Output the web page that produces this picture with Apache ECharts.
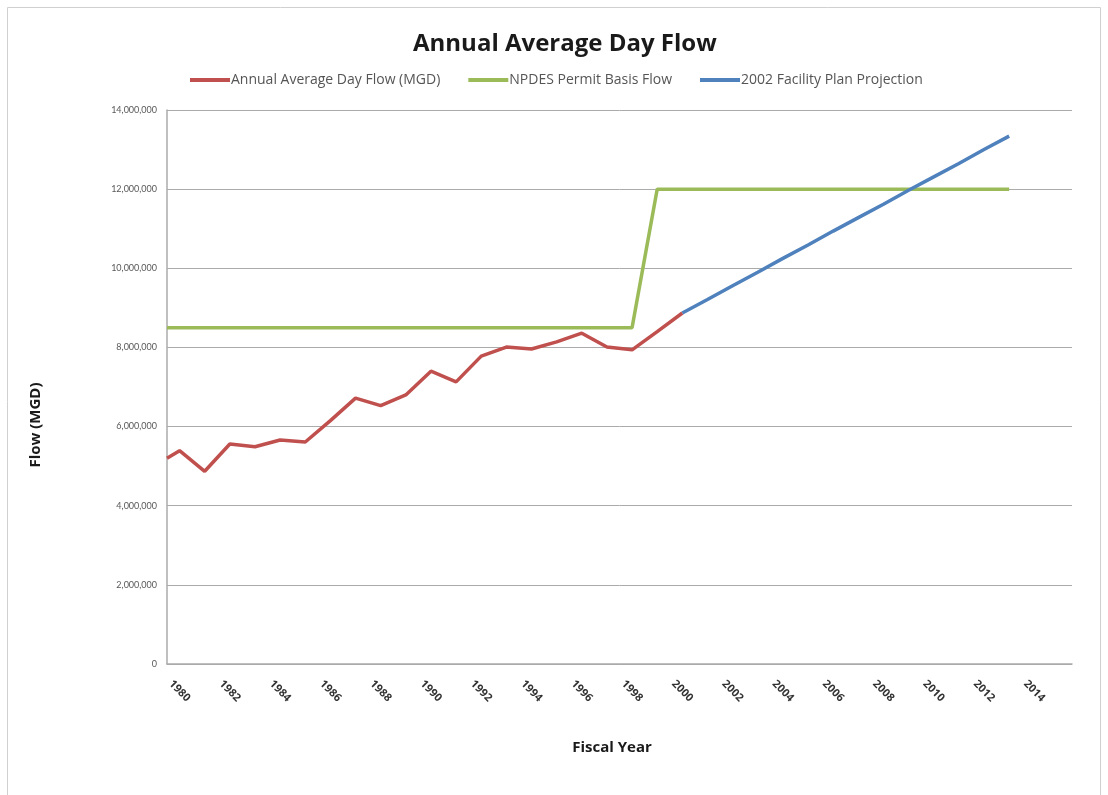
<!DOCTYPE html>
<html>
<head>
<meta charset="utf-8">
<title>Annual Average Day Flow</title>
<script src="https://cdn.jsdelivr.net/npm/echarts@6/dist/echarts.min.js"></script>
<style>
  html, body { margin: 0; padding: 0; background: #ffffff; }
  #chart { width: 1108px; height: 795px; }
</style>
</head>
<body>
<div id="chart"></div>
<script>
// Fiscal-year axis range (category slots 1980..2015, lines start at the plot edge)
const axisStartYear = 1979.5;
const axisEndYear = 2015.5;
const labelYears = [1980, 1982, 1984, 1986, 1988, 1990, 1992, 1994, 1996, 1998,
                    2000, 2002, 2004, 2006, 2008, 2010, 2012, 2014];

// Measured annual average day flow
const flowYears = [1980, 1981, 1982, 1983, 1984, 1985, 1986, 1987, 1988, 1989, 1990,
                   1991, 1992, 1993, 1994, 1995, 1996, 1997, 1998, 1999, 2000];
const flowValues = [5390000, 4870000, 5560000, 5490000, 5660000, 5610000, 6150000,
                    6720000, 6530000, 6800000, 7400000, 7130000, 7780000, 8010000,
                    7960000, 8140000, 8360000, 8010000, 7940000, 8400000, 8870000];
const flowAtAxisStart = 5200000;

// NPDES permit basis flow
const permitYears = [1980, 1998, 1999, 2013];
const permitValues = [8500000, 8500000, 12000000, 12000000];
const permitAtAxisStart = 8500000;

// 2002 facility plan projection
const projYears = [2000, 2001, 2002, 2003, 2004, 2005, 2006, 2007,
                   2008, 2009, 2010, 2011, 2012, 2013];
const projValues = [8870000, 9210000, 9560000, 9900000, 10250000, 10590000, 10940000,
                    11280000, 11620000, 11970000, 12310000, 12650000, 13000000, 13340000];

const yTicks = [0, 2000000, 4000000, 6000000, 8000000, 10000000, 12000000, 14000000];

function pairs(xs, ys) { return xs.map((x, i) => [x, ys[i]]); }

const flowData = [[axisStartYear, flowAtAxisStart]].concat(pairs(flowYears, flowValues));
const permitData = [[axisStartYear, permitAtAxisStart]].concat(pairs(permitYears, permitValues));
const projData = pairs(projYears, projValues);

const chart = echarts.init(document.getElementById('chart'), null, { renderer: 'canvas' });

const gridColor = '#ababab';
const mainFont = '"Open Sans", Lato, sans-serif';
const tickFont = 'Lato, "Open Sans", sans-serif';

chart.setOption({
  backgroundColor: '#ffffff',
  animation: false,
  title: {
    text: 'Annual Average Day Flow',
    left: 408,
    top: 27,
    textStyle: { fontFamily: mainFont, fontWeight: 'bold', fontSize: 24, color: '#1a1a1a' }
  },
  legend: {
    left: 185,
    top: 68,
    itemWidth: 40,
    itemHeight: 4,
    itemGap: 28,
    icon: 'rect',
    textStyle: { fontFamily: mainFont, fontSize: 14, color: '#555555', padding: [0, 0, 0, -4] },
    data: ['Annual Average Day Flow (MGD)', 'NPDES Permit Basis Flow', '2002 Facility Plan Projection']
  },
  grid: { left: 167, right: 36, top: 110, bottom: 131, containLabel: false },
  xAxis: {
    type: 'value',
    min: axisStartYear,
    max: axisEndYear,
    axisLine: { show: true, lineStyle: { color: gridColor, width: 1.5 } },
    axisTick: { show: false },
    splitLine: { show: false },
    axisLabel: {
      customValues: labelYears,
      rotate: -45,
      align: 'center',
      verticalAlign: 'middle',
      margin: 27,
      fontFamily: mainFont,
      fontWeight: 'bold',
      fontSize: 11,
      color: '#333333',
      formatter: v => String(v)
    }
  },
  yAxis: {
    type: 'value',
    min: yTicks[0],
    max: yTicks[yTicks.length - 1],
    interval: yTicks[1] - yTicks[0],
    axisLine: { show: true, lineStyle: { color: gridColor, width: 1.5 } },
    axisTick: { show: false },
    splitLine: { show: true, lineStyle: { color: gridColor, width: 1 } },
    axisLabel: {
      margin: 10,
      fontFamily: tickFont,
      fontSize: 9,
      color: '#595959',
      formatter: v => v.toLocaleString('en-US')
    }
  },
  graphic: [
    {
      type: 'rect',
      silent: true,
      shape: { x: 7.5, y: 7.5, width: 1093, height: 800 },
      style: { fill: 'none', stroke: '#d0d0d0', lineWidth: 1 }
    },
    {
      type: 'text',
      x: 36,
      y: 425,
      rotation: Math.PI / 2,
      style: {
        text: 'Flow (MGD)',
        fontFamily: mainFont,
        fontWeight: 'bold',
        fontSize: 15,
        fill: '#1a1a1a',
        textAlign: 'center',
        textVerticalAlign: 'middle'
      }
    },
    {
      type: 'text',
      x: 612,
      y: 748,
      style: {
        text: 'Fiscal Year',
        fontFamily: mainFont,
        fontWeight: 'bold',
        fontSize: 15,
        fill: '#1a1a1a',
        textAlign: 'center',
        textVerticalAlign: 'middle'
      }
    }
  ],
  series: [
    {
      name: 'Annual Average Day Flow (MGD)',
      type: 'line',
      data: flowData,
      showSymbol: false,
      symbol: 'none',
      clip: true,
      lineStyle: { color: '#C0504D', width: 3.5 },
      itemStyle: { color: '#C0504D' },
      z: 3
    },
    {
      name: 'NPDES Permit Basis Flow',
      type: 'line',
      data: permitData,
      showSymbol: false,
      symbol: 'none',
      clip: true,
      lineStyle: { color: '#9BBB59', width: 3.5 },
      itemStyle: { color: '#9BBB59' },
      z: 2
    },
    {
      name: '2002 Facility Plan Projection',
      type: 'line',
      data: projData,
      showSymbol: false,
      symbol: 'none',
      clip: true,
      lineStyle: { color: '#4F81BD', width: 3.5 },
      itemStyle: { color: '#4F81BD' },
      z: 4
    }
  ]
});
</script>
</body>
</html>
